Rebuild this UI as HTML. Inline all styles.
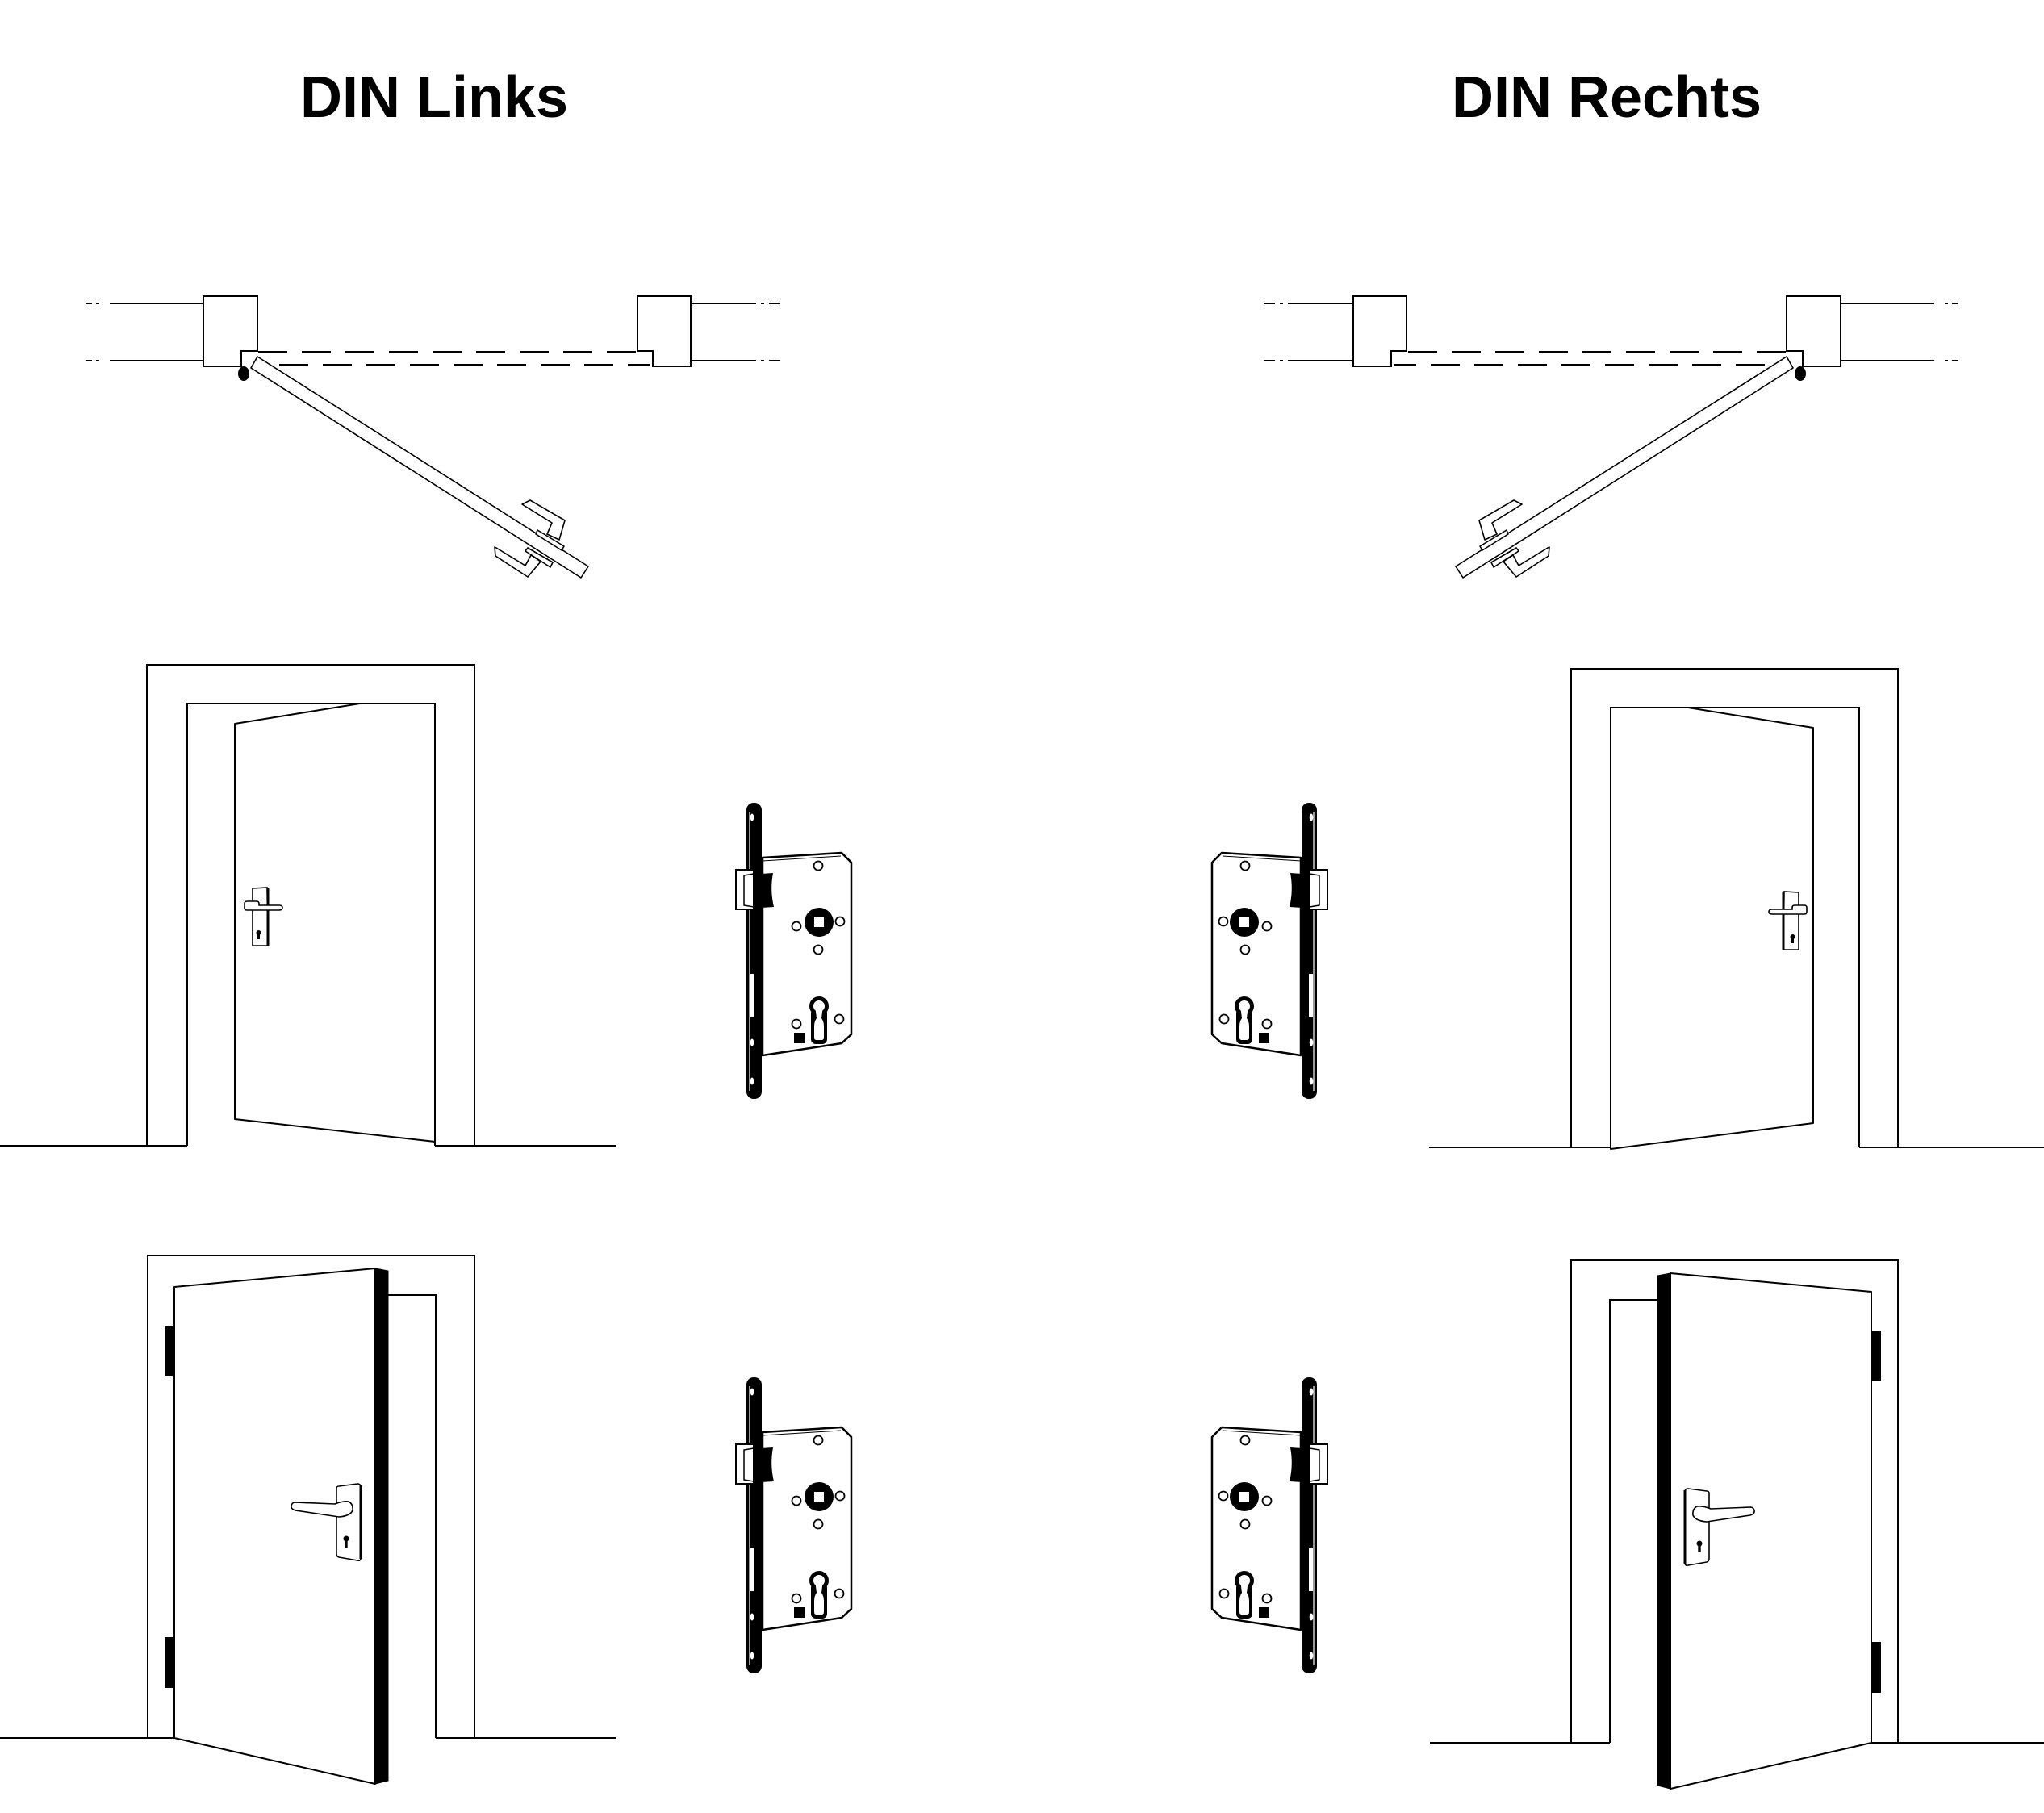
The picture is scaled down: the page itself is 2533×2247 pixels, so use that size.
<!DOCTYPE html>
<html><head><meta charset="utf-8"><style>html,body{margin:0;padding:0;background:#fff;width:2533px;height:2247px;overflow:hidden}</style></head>
<body>
<svg width="2533" height="2247" viewBox="0 0 2533 2247" xmlns="http://www.w3.org/2000/svg">
<rect width="2533" height="2247" fill="#fff"/>

<text x="538" y="145" font-family="Liberation Sans, Arial, sans-serif" font-weight="700" font-size="72" text-anchor="middle" fill="#000">DIN Links</text>
<text x="1991" y="145" font-family="Liberation Sans, Arial, sans-serif" font-weight="700" font-size="72" text-anchor="middle" fill="#000">DIN Rechts</text>

<!-- ===== PLAN VIEW LEFT ===== -->
<g id="planL">
  <g fill="none" stroke="#000" stroke-width="2">
    <path d="M136,376 H252 M136,447 H252"/>
    <path d="M106,376 H114 M119,376 H123 M106,447 H114 M119,447 H123"/>
    <path d="M856,376 H937 M856,447 H937"/>
    <path d="M943,376 H947 M953,376 H967 M943,447 H947 M953,447 H967"/>
    <path d="M320,436 H790" stroke-dasharray="36 18"/>
    <path d="M346,452 H806" stroke-dasharray="36 18"/>
  </g>
  <polygon points="252,367 319,367 319,435 299,435 299,454 252,454" fill="#fff" stroke="#000" stroke-width="2"/>
  <polygon points="790,367 856,367 856,454 809,454 809,435 790,435" fill="#fff" stroke="#000" stroke-width="2"/>
  <polygon points="319,442 729,702 720,716 311,456" fill="#fff" stroke="#000" stroke-width="1.6" stroke-linejoin="round"/>
  <ellipse cx="302" cy="463" rx="7" ry="9" fill="#000"/>
  <g fill="#fff" stroke="#000" stroke-width="1.6" stroke-linejoin="round">
    <polygon points="647,625 657,620 700,645 693,669 678,662 684,648"/>
    <polygon points="613,678 615,679 651,701 658,688 670,696 654,715 614,689"/>
    <polygon points="666,657 699,677 696,682 664,662"/>
    <polygon points="654,679 685,697 682,703 651,683"/>
  </g>
</g>
<use href="#planL" transform="translate(2533,0) scale(-1,1)"/>

<!-- ===== LOCK ===== -->
<g id="lock">
  <polygon points="945,1063 1043,1057 1055,1069 1055,1282 1043,1293 945,1308" fill="#fff" stroke="#000" stroke-width="2.5" stroke-linejoin="round"/>
  <line x1="945" y1="1067" x2="1042" y2="1061" stroke="#000" stroke-width="1"/>
  <path d="M943,1083 L958,1082 Q954,1103 959,1124 L943,1125 Z" fill="#000"/>
  <rect x="925" y="995" width="19" height="367" rx="9" fill="#000"/>
  <line x1="929" y1="1006" x2="929" y2="1352" stroke="#fff" stroke-width="1.2"/>
  <ellipse cx="932" cy="1013" rx="2.3" ry="4.5" fill="#fff"/>
  <ellipse cx="932" cy="1292" rx="2.3" ry="4.5" fill="#fff"/>
  <ellipse cx="932" cy="1340" rx="2.3" ry="4.5" fill="#fff"/>
  <rect x="930" y="1207" width="5" height="53" fill="#fff"/>
  <rect x="912" y="1078" width="22" height="49" fill="#fff" stroke="#000" stroke-width="2"/>
  <path d="M934,1083 L922,1085 L922,1122 L934,1124" fill="none" stroke="#000" stroke-width="1.5"/>
  <g fill="#fff" stroke="#000" stroke-width="1.8">
    <circle cx="1014" cy="1073" r="5.5"/>
    <circle cx="987" cy="1148" r="5.5"/>
    <circle cx="1041" cy="1142" r="5.5"/>
    <circle cx="1014" cy="1177" r="5.5"/>
    <circle cx="1040" cy="1263" r="5.5"/>
    <circle cx="987" cy="1269" r="5.5"/>
  </g>
  <circle cx="1015" cy="1143" r="18" fill="#000"/>
  <rect x="1009" y="1137" width="12" height="12" fill="#fff"/>
  <circle cx="1015" cy="1247" r="12" fill="#000"/>
  <rect x="1005" y="1250" width="20" height="44" rx="6" fill="#000"/>
  <circle cx="1015" cy="1247" r="7" fill="#fff"/>
  <path d="M1010.5,1250 H1019.5 L1018,1262 Q1021,1266 1021,1272 V1286 Q1021,1289 1018,1289 H1012 Q1009,1289 1009,1286 V1272 Q1009,1266 1012,1262 Z" fill="#fff"/>
  <rect x="984" y="1280" width="13" height="13" fill="#000"/>
</g>
<use href="#lock" transform="translate(0,712)"/>
<use href="#lock" transform="translate(2557,0) scale(-1,1)"/>
<use href="#lock" transform="translate(2557,712) scale(-1,1)"/>

<!-- ===== MIDDLE ROW LEFT ===== -->
<g fill="none" stroke="#000" stroke-width="2">
  <polygon points="291,897 446,872 539,872 539,1415 291,1387" fill="#fff" stroke-linejoin="round"/>
  <path d="M182,1420 V824 H588 V1420"/>
  <path d="M232,1420 V872 H539 V1420"/>
  <path d="M0,1420 H232 M539,1420 H763"/>
</g>
<g id="hm">
  <polygon points="313,1101 331,1100 332,1172 313,1172" fill="#fff" stroke="#000" stroke-width="1.6"/>
  <line x1="332" y1="1100" x2="332" y2="1172" stroke="#000" stroke-width="3"/>
  <path d="M306,1117 H318 Q321,1117 321,1120 V1122 H346 Q350,1122 350,1125 Q350,1128 346,1128 H306 Q303,1128 303,1125 V1120 Q303,1117 306,1117 Z" fill="#fff" stroke="#000" stroke-width="1.6"/>
  <circle cx="320.5" cy="1156" r="3" fill="#000"/>
  <rect x="319" y="1156" width="3" height="8" fill="#000"/>
</g>

<!-- ===== MIDDLE ROW RIGHT ===== -->
<g fill="none" stroke="#000" stroke-width="2">
  <polygon points="2247,902 2092,877 1996,877 1996,1424 2247,1392" fill="#fff" stroke-linejoin="round"/>
  <path d="M2352,1422 V829 H1947 V1422"/>
  <path d="M2304,1422 V877 H1996 V1422"/>
  <path d="M2533,1422 H2304 M1996,1422 H1771"/>
</g>
<use href="#hm" transform="translate(2542,5) scale(-1,1)"/>

<!-- ===== BOTTOM ROW LEFT ===== -->
<g id="botL">
  <g fill="none" stroke="#000" stroke-width="2">
    <path d="M183,2154 V1556 H588 V2154"/>
    <path d="M481,1605 H540 V2154"/>
    <path d="M0,2154 H216 M540,2154 H763"/>
    <polygon points="216,1595 465,1572 465,2211 216,2154" fill="#fff" stroke-linejoin="round"/>
  </g>
  <polygon points="465,1572 481,1575 481,2207 465,2211" fill="#000" stroke="#000" stroke-width="1"/>
  <rect x="204" y="1643" width="12" height="62" fill="#000"/>
  <rect x="204" y="2029" width="12" height="63" fill="#000"/>
  <path d="M420,1842 L443,1839 Q447,1839 447,1843 L447,1931 Q447,1935 443,1934 L420,1930 Q417,1929 417,1926 L417,1845 Q417,1842 420,1842 Z" fill="#fff" stroke="#000" stroke-width="1.6"/>
  <line x1="447" y1="1841" x2="447" y2="1932" stroke="#000" stroke-width="3"/>
  <path d="M366,1862 L415,1864 Q425,1860 432,1861 Q438,1864 437,1872 Q434,1879 420,1880 L366,1872 Q360,1870 361,1866 Q362,1862 366,1862 Z" fill="#fff" stroke="#000" stroke-width="1.6"/>
  <circle cx="429" cy="1907" r="3.5" fill="#000"/>
  <rect x="427.3" y="1907" width="3.4" height="11" fill="#000"/>
</g>
<use href="#botL" transform="translate(2535,6) scale(-1,1)"/>

</svg>
</body></html>
